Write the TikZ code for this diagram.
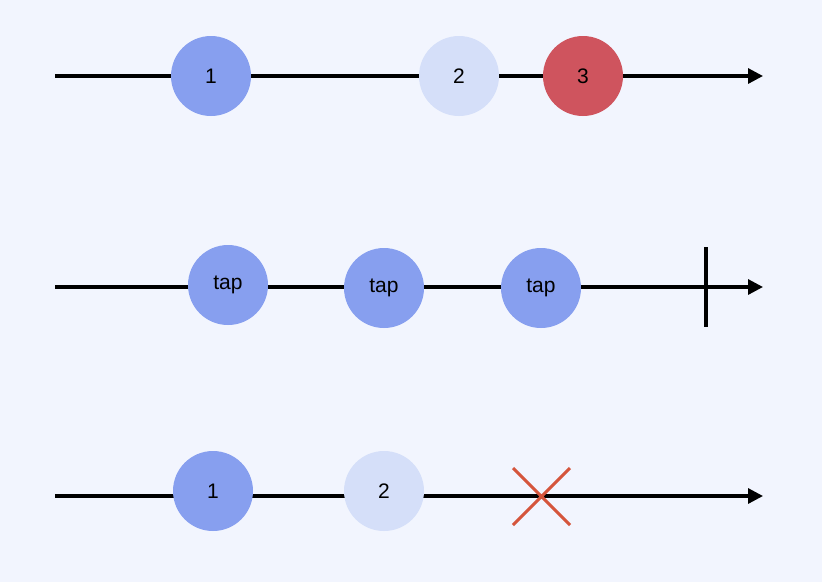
\documentclass[tikz,border=0pt]{standalone}
\usepackage{fontspec}
\setmainfont{Liberation Sans}
\usetikzlibrary{arrows.meta}
\definecolor{bgc}{HTML}{F2F5FE}
\definecolor{blueb}{HTML}{879FEF}
\definecolor{lightb}{HTML}{D5DFF9}
\definecolor{redb}{HTML}{CF545E}
\definecolor{xred}{HTML}{D5553C}
\tikzset{
  ev/.style={circle, minimum size=80pt, inner sep=0pt, font=\fontsize{21}{23}\selectfont, text=black},
  evb/.style={ev, fill=blueb},
  evl/.style={ev, fill=lightb},
  evr/.style={ev, fill=redb},
  timeline/.style={line width=3.2pt, -{Triangle[length=15pt,width=15pt]}},
}
\begin{document}
\begin{tikzpicture}[x=1pt,y=-1pt]
\fill[bgc] (0,0) rectangle (822,582);
\useasboundingbox (0,0) rectangle (822,582);
% row 1
\coordinate (s1) at (55,76);
\coordinate (e1) at (763,76);
\draw[timeline] (s1) -- (e1);
\node[evb] (a1) at (211,76) {1};
\node[evl] (a2) at (459,76) {2};
\node[evr] (a3) at (583,76) {3};
% row 2
\coordinate (s2) at (55,287);
\coordinate (e2) at (763,287);
\draw[timeline] (s2) -- (e2);
\node[evb] (t1) at (228,285) {tap};
\node[evb] (t2) at (384,288) {tap};
\node[evb] (t3) at (541,288) {tap};
\coordinate (c1) at (706,247);
\coordinate (c2) at (706,327);
\draw[line width=3.4pt] (c1) -- (c2);
% row 3
\coordinate (s3) at (55,496);
\coordinate (e3) at (763,496);
\draw[timeline] (s3) -- (e3);
\node[evb] (b1) at (213,491) {1};
\node[evl] (b2) at (384,491) {2};
\coordinate (x1) at (513,468);
\coordinate (x2) at (570,525);
\coordinate (x3) at (570,468);
\coordinate (x4) at (513,525);
\draw[xred, line width=3pt] (x1) -- (x2) (x3) -- (x4);
\end{tikzpicture}
\end{document}
